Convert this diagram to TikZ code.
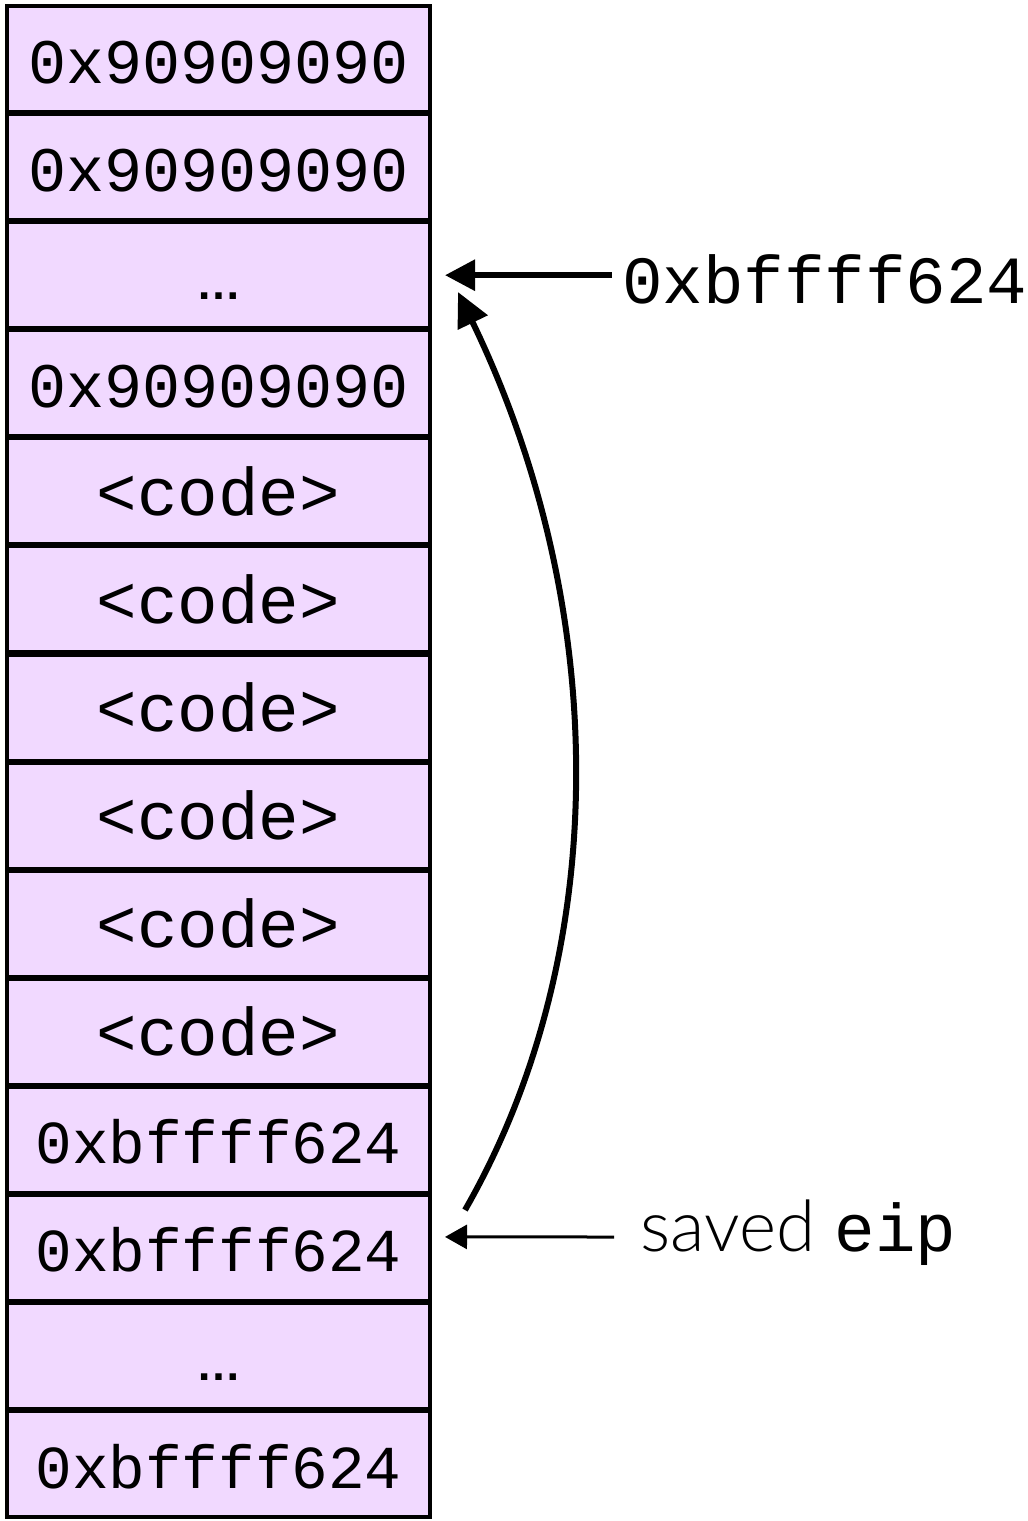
\documentclass[tikz,border=0pt]{standalone}
\usepackage{fontspec}
\setmonofont{Liberation Mono}
\newfontfamily\lightsans{Lato Light}
\newfontfamily\dotsans{Liberation Sans}
\usetikzlibrary{arrows.meta,calc}
\definecolor{cellfill}{RGB}{241,217,255}
\newcommand\nopfont{\ttfamily\fontsize{31.7}{31.7}\selectfont}
\newcommand\cellfont{\ttfamily\fontsize{30.5}{30.5}\selectfont}
\newcommand\bigmono{\ttfamily\fontsize{33.75}{33.75}\selectfont}
\newcommand\dotsfont{\dotsans\bfseries\fontsize{22.5}{22.5}\selectfont}
\newcommand\labelsans{\lightsans\fontsize{35.5}{35.5}\selectfont}
\begin{document}
\begin{tikzpicture}[x=0.5pt,y=-0.5pt,
  cell/.style={draw, line width=2pt, fill=cellfill,
    minimum width=211.5pt, minimum height=53pt, inner sep=0pt,
    text height=24pt, text depth=0pt, font=\cellfont},
  nopcell/.style={cell, font=\nopfont},
  codecell/.style={cell, font=\bigmono},
  gapcell/.style={cell, font=\dotsfont},
  biglink/.style={line width=3pt, -{Triangle[length=15pt,width=15pt]}},
  curvelink/.style={line width=3pt, -{Triangle[length=17pt,width=16pt]}},
  thinlink/.style={line width=1.5pt, -{Triangle[length=11pt,width=12pt]}},
  lbl/.style={inner sep=0pt, anchor=base west}]
\useasboundingbox (0,0) rectangle (1028,1521);

% stack cells, top to bottom
\node[nopcell]  (c1)  at (218.5,59.0)   {0x90909090};
\node[nopcell]  (c2)  at (218.5,167.1)  {0x90909090};
\node[gapcell]  (c3)  at (218.5,275.2)  {…};
\node[nopcell]  (c4)  at (218.5,383.3)  {0x90909090};
\node[codecell] (c5)  at (218.5,491.3)  {<code>};
\node[codecell] (c6)  at (218.5,599.4)  {<code>};
\node[codecell] (c7)  at (218.5,707.5)  {<code>};
\node[codecell] (c8)  at (218.5,815.6)  {<code>};
\node[codecell] (c9)  at (218.5,923.6)  {<code>};
\node[codecell] (c10) at (218.5,1031.7) {<code>};
\node[cell]     (c11) at (218.5,1139.8) {0xbffff624};
\node[cell]     (c12) at (218.5,1247.9) {0xbffff624};
\node[gapcell]  (c13) at (218.5,1356.0) {…};
\node[cell]     (c14) at (218.5,1464.0) {0xbffff624};

% labels on the right
\node[lbl, font=\bigmono] (addr) at (622,303) {0xbffff624};
\node[lbl] (saved) at (640,1251) {\labelsans saved \bigmono eip};

% pointer to the NOP sled
\coordinate (topstart) at (612,275.2);
\coordinate (toptip) at ($(c3.east)+(13,0)$);
\draw[biglink] (topstart) -- (toptip);

% overwritten return address jumps back up
\coordinate (jumpstart) at (465,1210);
\coordinate (jumptip) at (458,292);
\draw[curvelink] (jumpstart) .. controls (612,954) and (612,611) .. (jumptip);

% saved eip marker
\coordinate (savedstart) at (614,1237);
\coordinate (savedtip) at ($(c12.east)+(13,-11)$);
\draw[thinlink] (savedstart) -- (savedtip);
\end{tikzpicture}
\end{document}
